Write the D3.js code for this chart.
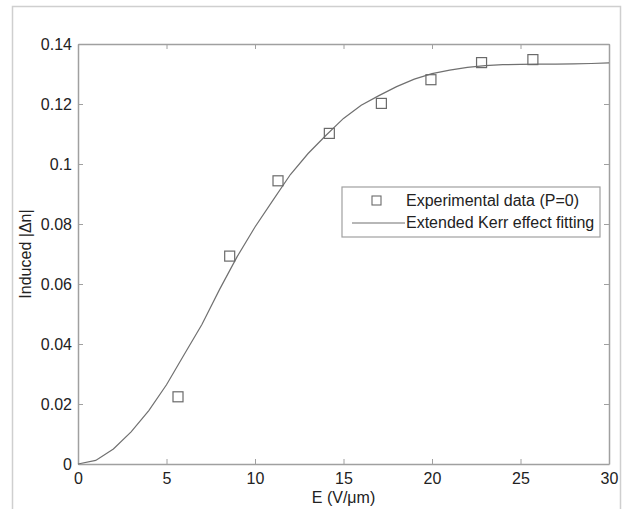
<!DOCTYPE html>
<html>
<head>
<meta charset="utf-8">
<script src="https://cdn.jsdelivr.net/npm/d3@7"></script>
<style>
  body { margin: 0; background: #fff; }
  svg { display: block; font-family: "Liberation Sans", Arial, sans-serif; }
</style>
</head>
<body>
<div id="chart"></div>
<script>
// measured points (E in V/um, induced |dn|)
const expE = [5.65, 8.57, 11.3, 14.2, 17.14, 19.94, 22.8, 25.7];
const expDn = [0.0224, 0.0693, 0.0944, 0.1102, 0.1202, 0.1281, 0.1338, 0.1348];

// fitted curve
const fitE = [0, 1, 2, 3, 4, 5, 6, 7, 8, 9, 10, 11, 12, 13, 14, 15, 16, 17, 18, 19, 20,
              21, 22, 23, 24, 25, 26, 27, 28, 29, 30];
const fitDn = [0, 0.0012, 0.005, 0.0107, 0.0178, 0.0264, 0.0365, 0.0465, 0.0582, 0.0692, 0.079,
               0.0878, 0.0965, 0.1035, 0.1095, 0.1152, 0.1196, 0.1228, 0.1258, 0.1283, 0.1301,
               0.1313, 0.1322, 0.1328, 0.1331, 0.1332, 0.1333, 0.1333, 0.1334, 0.1335, 0.1337];

const xTicks = [0, 5, 10, 15, 20, 25, 30];
const yTicks = [0, 0.02, 0.04, 0.06, 0.08, 0.1, 0.12, 0.14];
const legendLabels = ["Experimental data (P=0)", "Extended Kerr effect fitting"];

const W = 624, H = 509;
const plotL = 78, plotR = 609, plotT = 44, plotB = 464;
const axisColor = "#a0a0a0";
const textColor = "#222";
const fs = "16px";

const svg = d3.select("#chart").append("svg")
    .attr("width", W)
    .attr("height", H);

// outer frame
svg.append("rect")
    .attr("x", 12.5).attr("y", 6.5)
    .attr("width", 608).attr("height", 520)
    .attr("fill", "none")
    .attr("stroke", "#cfcfcf")
    .attr("stroke-width", 1.5);

const x = d3.scaleLinear().domain([0, 30]).range([plotL, plotR]);
const y = d3.scaleLinear().domain([0, 0.14]).range([plotB, plotT]);

// bottom axis + labels
const xAxis = svg.append("g")
    .attr("transform", `translate(0,${plotB})`)
    .call(d3.axisBottom(x).tickValues(xTicks).tickSizeInner(-5).tickSizeOuter(0).tickPadding(9)
        .tickFormat(d3.format("d")));
// top ticks
const xTop = svg.append("g")
    .attr("transform", `translate(0,${plotT})`)
    .call(d3.axisTop(x).tickValues(xTicks).tickSizeInner(-5).tickSizeOuter(0).tickFormat(""));

const yAxis = svg.append("g")
    .attr("transform", `translate(${plotL},0)`)
    .call(d3.axisLeft(y).tickValues(yTicks).tickSizeInner(-5).tickSizeOuter(0).tickPadding(6)
        .tickFormat(d => d === 0 ? "0" : String(+d.toFixed(2))));
const yRight = svg.append("g")
    .attr("transform", `translate(${plotR},0)`)
    .call(d3.axisRight(y).tickValues(yTicks).tickSizeInner(-5).tickSizeOuter(0).tickFormat(""));

[xAxis, xTop, yAxis, yRight].forEach(g => {
    g.select(".domain").attr("stroke", axisColor).attr("stroke-width", 1.5);
    g.selectAll(".tick line").attr("stroke", axisColor).attr("stroke-width", 1);
    g.selectAll(".tick text")
        .attr("fill", textColor)
        .style("font-size", fs)
        .style("font-family", "Liberation Sans, Arial, sans-serif");
});

// fitted curve
const line = d3.line()
    .x((d, i) => x(fitE[i]))
    .y(d => y(d));

svg.append("path")
    .datum(fitDn)
    .attr("d", line)
    .attr("fill", "none")
    .attr("stroke", "#707070")
    .attr("stroke-width", 1.2);

// data markers
const sq = 10;
svg.selectAll("rect.pt")
    .data(expDn)
    .enter()
    .append("rect")
    .attr("class", "pt")
    .attr("x", (d, i) => x(expE[i]) - sq / 2)
    .attr("y", d => y(d) - sq / 2)
    .attr("width", sq)
    .attr("height", sq)
    .attr("fill", "none")
    .attr("stroke", "#6a6a6a")
    .attr("stroke-width", 1.2);

// axis titles
svg.append("text")
    .attr("x", (plotL + plotR) / 2)
    .attr("y", 503)
    .attr("text-anchor", "middle")
    .attr("fill", textColor)
    .style("font-size", fs)
    .text("E (V/μm)");

svg.append("text")
    .attr("transform", `translate(31,${(plotT + plotB) / 2}) rotate(-90)`)
    .attr("text-anchor", "middle")
    .attr("fill", textColor)
    .style("font-size", fs)
    .text("Induced |Δn|");

// legend
const lg = svg.append("g").attr("transform", "translate(342,187)");
lg.append("rect")
    .attr("width", 258).attr("height", 50)
    .attr("fill", "#fff")
    .attr("stroke", axisColor)
    .attr("stroke-width", 1.2);

lg.append("rect")
    .attr("x", 30).attr("y", 9)
    .attr("width", 9).attr("height", 9)
    .attr("fill", "none")
    .attr("stroke", "#6a6a6a")
    .attr("stroke-width", 1.1);

lg.append("line")
    .attr("x1", 10).attr("x2", 63)
    .attr("y1", 36).attr("y2", 36)
    .attr("stroke", "#707070")
    .attr("stroke-width", 1.2);

lg.selectAll("text.lab")
    .data(legendLabels)
    .enter()
    .append("text")
    .attr("class", "lab")
    .attr("x", 64)
    .attr("y", (d, i) => 19 + i * 22)
    .attr("fill", textColor)
    .style("font-size", fs)
    .text(d => d);
</script>
</body>
</html>
